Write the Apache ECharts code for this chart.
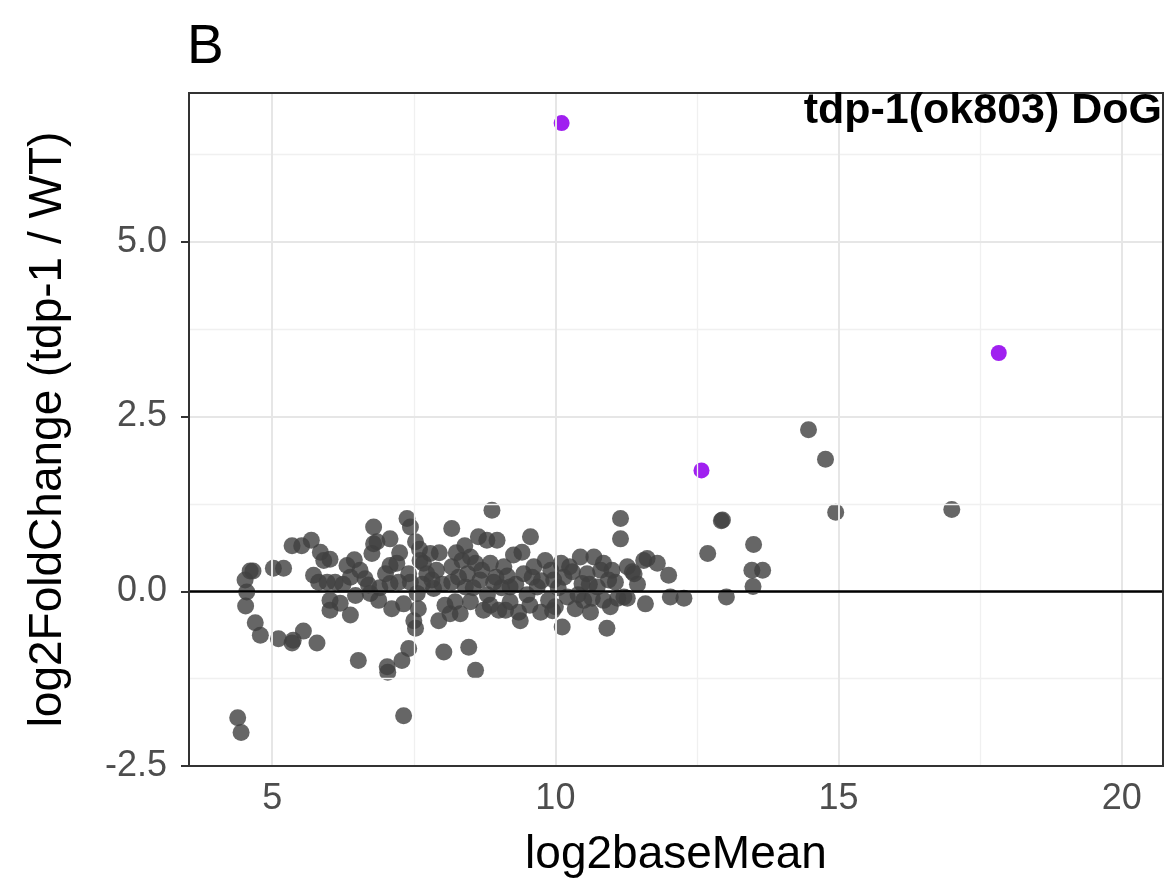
<!DOCTYPE html>
<html>
<head>
<meta charset="utf-8">
<script src="https://cdn.jsdelivr.net/npm/echarts@6/dist/echarts.min.js"></script>
<style>
html,body{margin:0;padding:0;background:#fff;}
#c{width:1171px;height:884px;}
</style>
</head>
<body>
<div id="c"></div>
<script>
// ---- data ----
const grayX = [4.39,4.45,4.52,4.61,4.66,4.55,4.53,4.70,4.79,5.11,5.35,5.37,5.55,5.79,5.02,5.20,5.35,5.52,5.69,5.85,
5.91,6.02,5.73,5.82,5.97,6.02,6.02,6.20,6.11,6.32,6.38,6.38,6.47,6.52,6.64,6.70,6.73,6.79,6.79,6.85,
6.76,6.88,7.03,7.04,7.08,7.08,7.08,7.11,7.20,7.23,7.29,7.32,7.38,7.41,7.44,7.32,7.41,7.44,7.53,7.50,
7.53,7.58,7.61,7.56,7.67,7.73,7.79,7.82,7.85,7.94,8.03,8.17,8.17,8.17,8.14,8.23,8.29,8.32,8.35,8.41,
8.47,8.50,8.50,8.59,8.59,8.64,8.67,8.73,8.79,8.88,8.85,8.91,8.97,9.00,9.09,9.12,9.20,9.26,9.35,9.38,
9.41,9.44,9.56,9.59,9.68,9.74,9.82,9.88,9.97,10.00,10.12,10.15,10.21,10.30,10.35,10.44,10.47,10.50,10.56,10.62,
10.68,10.74,10.80,10.85,10.91,10.94,10.97,11.06,11.15,11.15,11.21,11.27,11.36,11.56,11.59,11.62,11.80,12.00,12.03,12.27,
11.39,11.27,12.69,12.95,12.93,13.02,13.50,13.47,13.66,13.49,14.47,14.77,14.95,17.00,
8.45,8.55,8.70,8.80,8.95,9.05,9.15,9.30,9.50,9.62,9.75,9.92,10.05,10.25,10.40,10.60,10.85,11.00,11.10,11.45,
7.90,8.00,8.05,7.65,7.00,6.90,6.55,7.25,7.60,8.25,8.40,9.20,9.55,10.10,10.65,6.25,6.45,7.95,8.85,9.95];
const grayY = [-1.81,-2.02,0.16,0.29,0.29,-0.01,-0.21,-0.45,-0.63,-0.68,-0.74,-0.70,-0.57,-0.74,0.33,0.33,0.65,0.65,0.73,0.56,
0.44,0.46,0.23,0.13,0.13,-0.13,-0.27,-0.17,0.13,0.37,0.20,-0.34,-0.06,-0.99,0.18,0.09,-0.03,0.92,0.68,0.71,
0.54,-0.13,-1.08,-1.16,0.75,0.37,0.11,-0.25,0.40,0.13,-0.99,-1.78,1.04,-0.82,0.92,-0.18,0.25,0.13,0.71,-0.42,
-0.53,-0.25,0.44,-0.03,0.40,0.25,0.54,0.16,0.04,-0.42,-0.87,0.90,0.35,0.13,-0.32,-0.15,0.20,-0.32,0.44,0.06,
-0.80,0.49,-0.15,-1.13,0.40,0.78,0.16,-0.27,0.73,1.16,0.40,0.13,0.73,-0.27,0.35,-0.27,0.06,0.52,-0.30,-0.42,
0.56,0.25,0.78,0.20,0.06,-0.30,0.44,-0.13,0.16,-0.22,-0.51,0.20,-0.08,0.28,-0.25,0.49,0.11,-0.13,0.25,-0.30,
0.49,0.06,0.30,-0.13,-0.53,0.16,-0.22,0.13,1.04,0.75,-0.08,0.35,0.28,0.44,-0.18,0.47,0.40,0.23,-0.08,-0.10,
0.25,-0.10,0.54,1.02,1.01,-0.08,0.67,0.30,0.30,0.07,2.31,1.89,1.13,1.17,
0.25,0.05,0.30,-0.05,0.20,0.05,0.22,0.10,-0.05,0.35,0.15,0.30,0.05,0.35,-0.05,0.10,0.40,0.30,-0.10,0.10,
0.30,0.10,-0.20,0.10,0.25,0.05,0.30,0.55,0.60,0.55,0.65,-0.15,-0.20,0.40,-0.10,0.10,0.45,0.55,-0.20,-0.28];
const purpleX = [10.11, 12.58, 17.83];
const purpleY = [6.70, 1.73, 3.41];

const xTicks = [5, 10, 15, 20];
const xMinor = [7.5, 12.5, 17.5];
const yTicks = [-2.5, 0, 2.5, 5];
const yMinor = [-1.25, 1.25, 3.75, 6.25];
const xRange = [3.53, 20.73];
const yRange = [-2.5, 7.13];
const xTitle = 'log2baseMean';
const yTitle = 'log2FoldChange (tdp-1 / WT)';
const panelLabel = 'B';
const annotation = 'tdp-1(ok803) DoG';

// ---- chart ----
const FONT = '"Liberation Sans", Arial, Helvetica, sans-serif';
const chart = echarts.init(document.getElementById('c'), null, {renderer: 'canvas'});

const grayData = grayX.map((x, i) => [x, grayY[i]]);
const purpleData = purpleX.map((x, i) => [x, purpleY[i]]);

const minorStyle = {color: '#f0f0f0', width: 1.3, type: 'solid'};
const majorStyle = {color: '#e6e6e6', width: 2, type: 'solid'};
const gridLines = []
  .concat(xMinor.map(v => ({xAxis: v, lineStyle: minorStyle})))
  .concat(yMinor.map(v => ({yAxis: v, lineStyle: minorStyle})))
  .concat(xTicks.map(v => ({xAxis: v, lineStyle: majorStyle})))
  .concat(yTicks.map(v => ({yAxis: v, lineStyle: majorStyle})));

const option = {
  animation: false,
  backgroundColor: '#ffffff',
  grid: {
    left: 189, right: 8, top: 93, bottom: 118,
    show: true, borderColor: '#333333', borderWidth: 2, backgroundColor: 'transparent', z: 10
  },
  xAxis: {
    type: 'value', min: xRange[0], max: xRange[1],
    name: xTitle, nameLocation: 'middle', nameGap: 66,
    nameTextStyle: {fontFamily: FONT, fontSize: 46, color: '#000'},
    axisLine: {show: false},
    splitLine: {show: false},
    axisTick: {show: true, customValues: xTicks, length: 8, lineStyle: {color: '#333', width: 2}},
    axisLabel: {customValues: xTicks, fontFamily: FONT, fontSize: 36, color: '#4d4d4d', margin: 15,
      formatter: v => String(v)}
  },
  yAxis: {
    type: 'value', min: yRange[0], max: yRange[1],
    name: yTitle, nameLocation: 'middle', nameGap: 118, nameRotate: 90,
    nameTextStyle: {fontFamily: FONT, fontSize: 46, color: '#000'},
    axisLine: {show: false},
    splitLine: {show: false},
    axisTick: {show: true, customValues: yTicks, length: 8, lineStyle: {color: '#333', width: 2}},
    axisLabel: {customValues: yTicks, fontFamily: FONT, fontSize: 36, color: '#4d4d4d', margin: 22,
      formatter: v => v.toFixed(1)}
  },
  graphic: [
    {type: 'text', left: 187, top: 20, z: 20,
      style: {text: panelLabel, font: '55px ' + FONT, fill: '#000'}},
    {type: 'text', right: 9, top: 90, z: 20,
      style: {text: annotation, font: 'bold 43px ' + FONT, fill: '#000'}}
  ],
  series: [
    {
      type: 'scatter', data: [], z: 1, silent: true,
      markLine: {silent: true, symbol: ['none', 'none'], label: {show: false}, animation: false, data: gridLines}
    },
    {
      type: 'scatter', data: grayData, z: 3, symbolSize: 17, silent: true,
      itemStyle: {color: '#404040', opacity: 0.8}
    },
    {
      type: 'scatter', data: purpleData, z: 4, symbolSize: 16, silent: true,
      itemStyle: {color: '#a020f0', opacity: 1}
    },
    {
      type: 'scatter', data: [], z: 6, silent: true,
      markLine: {silent: true, symbol: ['none', 'none'], label: {show: false}, animation: false,
        data: [{yAxis: 0, lineStyle: {color: '#000', width: 2.5, type: 'solid'}}]}
    }
  ]
};
chart.setOption(option);
</script>
</body>
</html>
